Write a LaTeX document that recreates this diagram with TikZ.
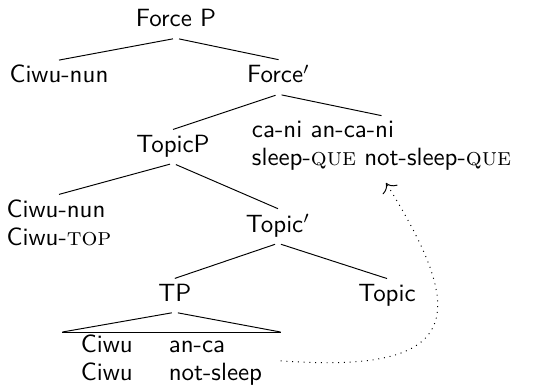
\documentclass[tikz,border=0pt]{standalone}
\usetikzlibrary{arrows,arrows.meta,positioning,calc}
\newcommand{\smc}[1]{\textrm{\textsc{#1}}}
\newcommand{\trfont}{\fontsize{10.4}{11.8}\selectfont\sffamily}

\begin{document}
\begin{tikzpicture}[
  lb/.style={font=\trfont,inner sep=2pt,text depth=0.25em,anchor=base},
  ml/.style={font=\trfont,inner sep=2pt,align=left,anchor=north},
  tb/.style={font=\trfont,inner sep=0pt,anchor=north},
  br/.style={black,shorten <=1.3pt},
  mv/.style={-{To[scale=1.4]},dotted,black,shorten >=3.5pt},
  ]
  \useasboundingbox (0,0) rectangle (7.848,-5.681);

  \node at (2.577,-0.395) [lb] (fp) {Force P};
  \node at (0.864,-1.215) [lb] (cn1) {Ciwu-nun};
  \node at (4.078,-1.215) [lb] (fbar) {Force$'$};
  \node at (2.533,-2.226) [lb] (tpp) {TopicP};
  \node at (5.586,-1.693) [ml] (que) {ca-ni an-ca-ni\\
    sleep-\smc{que} not-sleep-\smc{que}};
  \node at (0.864,-2.846) [ml] (cn2) {Ciwu-nun\\
    Ciwu-\smc{top}};
  \node at (4.070,-3.397) [lb] (tbar) {Topic$'$};
  \node at (2.560,-4.407) [lb] (tp) {TP};
  \node at (5.666,-4.407) [lb] (top) {Topic};
  \node at (2.511,-4.861) [tb] (cl) {\setlength{\tabcolsep}{7.5pt}%
    \begin{tabular}{ll}
      Ciwu & an-ca\\
      Ciwu & not-sleep
    \end{tabular}};

  \draw  (fp.south) edge [br] (cn1.north);
  \draw  (fp.south) edge [br] (fbar.north);
  \draw  (fbar.south) edge [br] (tpp.north);
  \draw  (fbar.south) edge [br] (que.north);
  \draw  (tpp.south) edge [br] (cn2.north);
  \draw  (tpp.south) edge [br] (tbar.north);
  \draw  (tbar.south) edge [br] (tp.north);
  \draw  (tbar.south) edge [br] (top.north);
  % roof over the TP
  \draw  (tp.south) edge [br] (cl.north west);
  \draw  (tp.south) edge [br] (cl.north east);
  \draw  (cl.north west) -- (cl.north east);

  \draw[mv] (cl.east) .. controls (6.882,-5.491) and (6.809,-4.539) .. (que.south);
\end{tikzpicture}
\end{document}
